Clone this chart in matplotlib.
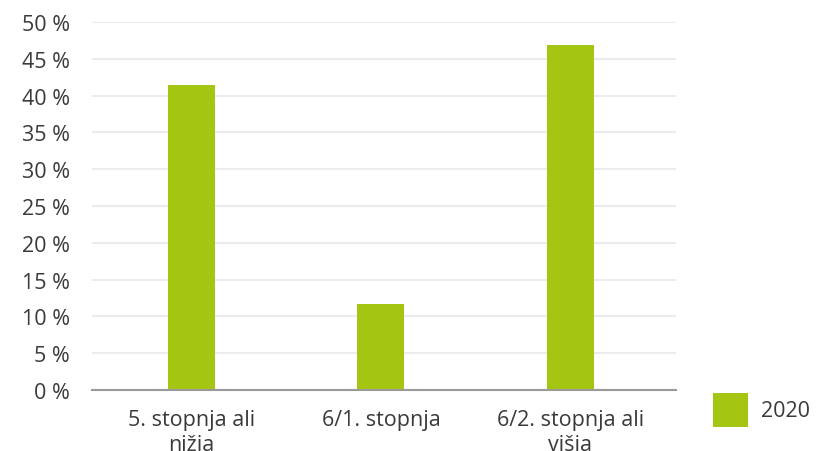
import matplotlib.pyplot as plt
from matplotlib.patches import Rectangle
from matplotlib.ticker import FuncFormatter

# Share of respondents by education level, 2020
categories = ["5. stopnja ali\nnižja", "6/1. stopnja", "6/2. stopnja ali\nvišja"]
values_2020 = [41.5, 11.7, 46.9]
yticks = [0, 5, 10, 15, 20, 25, 30, 35, 40, 45, 50]
series_label = "2020"

bar_color = "#a4c512"
text_color = "#3a3a3a"

plt.rcParams["font.family"] = ["Open Sans", "DejaVu Sans"]

fig = plt.figure(figsize=(8.17, 4.52), dpi=100)
ax = fig.add_axes([0.1126, 0.135, 0.7148, 0.814])

x = range(len(categories))
ax.bar(x, values_2020, width=0.248, color=bar_color, zorder=3)

ax.set_xlim(-0.525, 2.557)
ax.set_ylim(0, 50)
ax.set_yticks(yticks)
ax.yaxis.set_major_formatter(FuncFormatter(lambda v, _: f"{v:.0f} %"))
ax.set_xticks(list(x))
ax.set_xticklabels(categories, linespacing=1.2)

ax.grid(axis="y", color="#ebebeb", linewidth=1.5, zorder=0)
for side in ["top", "right", "left"]:
    ax.spines[side].set_visible(False)
ax.spines["bottom"].set_color("#9a9a9a")
ax.spines["bottom"].set_linewidth(1.5)
ax.spines["bottom"].set_zorder(4)

ax.tick_params(axis="both", length=0, labelsize=15.5, labelcolor=text_color)
ax.tick_params(axis="y", pad=16)
ax.tick_params(axis="x", pad=14)

# legend: single swatch to the right of the axis
fig.patches.append(Rectangle((0.8727, 0.0531), 0.0428, 0.0752,
                             transform=fig.transFigure, facecolor=bar_color,
                             edgecolor="none"))
fig.text(0.9315, 0.0907, series_label, fontsize=15.5, color=text_color,
         va="center", ha="left")

fig.savefig("out.png", dpi=100)
